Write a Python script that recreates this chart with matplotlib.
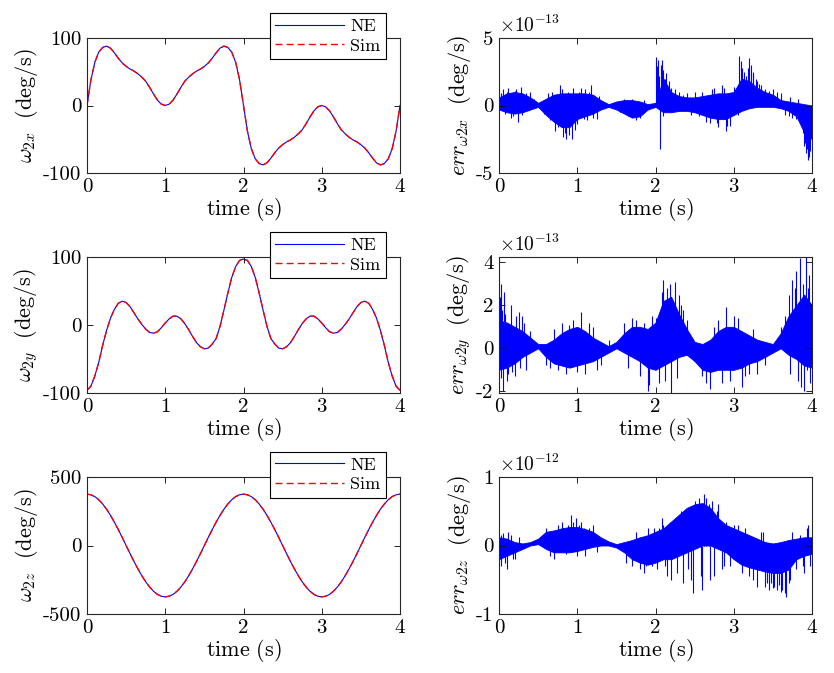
import matplotlib
matplotlib.use("Agg")
import matplotlib.pyplot as plt
import numpy as np

plt.rcParams['font.family'] = ['cmr10', 'DejaVu Serif']
plt.rcParams['mathtext.fontset'] = 'cm'
plt.rcParams['axes.unicode_minus'] = False
plt.rcParams['axes.formatter.use_mathtext'] = True

# ---------------- data ----------------
t = [round(0.05 * i, 2) for i in range(81)]

w2x = [0, 38, 64, 79, 86, 88, 85, 78, 70, 63, 58, 54, 51, 47, 42, 36, 27, 17, 8, 2,
       0, 2, 8, 17, 27, 36, 42, 47, 51, 54, 58, 63, 70, 78, 85, 88, 86, 79, 64, 38,
       0, -38, -64, -79, -86, -88, -85, -78, -70, -63, -58, -54, -51, -47, -42, -36, -27, -17, -8, -2,
       0, -2, -8, -17, -27, -36, -42, -47, -51, -54, -58, -63, -70, -78, -85, -88, -86, -79, -64, -38, 0]

w2y = [-96, -90, -75, -55, -30, -8, 10, 23, 32, 35, 33, 27, 18, 9, 1, -6, -11, -12, -10, -4,
       3, 9, 13, 13, 9, 2, -7, -17, -26, -32, -35, -34, -28, -20, -2, 22, 47, 70, 86, 95,
       97, 95, 86, 70, 47, 22, -2, -20, -28, -34, -35, -32, -26, -17, -7, 2, 9, 13, 13, 9,
       3, -4, -10, -12, -11, -6, 1, 9, 18, 27, 33, 35, 32, 23, 10, -8, -30, -55, -75, -90, -96]

w2z = [375, 370, 357, 334, 303, 265, 220, 170, 116, 59,
       0, -59, -116, -170, -220, -265, -303, -334, -357, -370,
       -375, -370, -357, -334, -303, -265, -220, -170, -116, -59,
       0, 59, 116, 170, 220, 265, 303, 334, 357, 370,
       375, 370, 357, 334, 303, 265, 220, 170, 116, 59,
       0, -59, -116, -170, -220, -265, -303, -334, -357, -370,
       -375, -370, -357, -334, -303, -265, -220, -170, -116, -59,
       0, 59, 116, 170, 220, 265, 303, 334, 357, 370, 375]

# error panels: dense band envelope (every 0.1 s) + individual spikes
t_env = [round(0.1 * i, 1) for i in range(41)]

ex_hi = [0.6, 0.9, 1.0, 0.9, 0.6, 0.2, 0.5, 0.8, 0.9, 0.9, 0.9, 0.9, 0.8, 0.4, 0.1, 0.3, 0.4, 0.4, 0.3, 0.1,
         0.2, 2.0, 1.0, 0.7, 0.6, 0.6, 0.7, 0.8, 0.9, 0.9, 1.0, 2.0, 1.8, 1.3, 1.0, 0.8, 0.4, 0.3, 0.2, 0.1, 0.0]
ex_lo = [-0.3, -0.5, -0.6, -0.5, -0.3, -0.1, -0.7, -1.2, -1.6, -1.6, -1.0, -0.8, -0.6, -0.3, -0.1, -0.3, -0.6, -0.9, -0.8, -0.3,
         -0.1, -0.5, -0.5, -0.4, -0.4, -0.5, -0.7, -0.9, -1.0, -1.0, -0.7, -0.4, -0.2, -0.1, -0.1, -0.1, -0.2, -0.4, -0.8, -2.0, -2.5]
ex_spk_t = [0.05, 0.12, 0.2, 0.28, 0.15, 0.3, 0.4, 0.62, 0.65, 0.72, 0.78, 0.82, 0.86, 0.9, 0.93, 0.95, 1.0, 1.05,
            1.1, 1.18, 1.12, 1.25, 1.65, 1.75, 1.6, 2.01, 2.03, 2.06, 2.08, 2.1, 2.12, 2.15, 2.2, 2.3, 2.4, 2.55,
            2.6, 2.7, 2.75, 2.8, 2.85, 2.9, 2.95, 3.0, 3.07, 3.1, 3.13, 3.2, 3.22, 3.25, 3.3, 3.35, 3.4, 3.5, 3.6,
            3.65, 3.75, 3.8, 3.85, 3.9, 3.92, 3.95, 3.97, 3.99,
            0.02, 0.08, 0.1, 0.18, 0.22, 0.24, 0.35, 0.45, 0.58, 0.68, 0.75, 0.8, 0.84, 0.88, 0.97, 1.02, 1.08,
            1.15, 1.2, 1.28, 1.55, 1.7, 1.8, 1.85, 2.02, 2.04, 2.07, 2.09, 2.13, 2.17, 2.25, 2.35, 2.45, 2.5,
            2.65, 2.72, 2.78, 2.88, 2.92, 3.05, 3.09, 3.12, 3.16, 3.18, 3.24, 3.28, 3.32, 3.45, 3.55, 3.7, 3.72,
            3.82, 3.88, 3.91, 3.94, 3.96, 3.98]
ex_spk_v = [1.2, 1.3, 1.1, 1.4, -0.9, -0.7, 1.0, 0.9, -1.1, -1.9, 1.5, -2.3, -2.5, -2.2, -2.5, 1.3, -1.4, 1.3,
            1.2, 1.5, -1.1, -1.0, -0.8, -1.1, 0.5, 3.6, 3.4, -3.2, 3.4, 2.6, 2.0, 1.5, 1.3, 1.0, 0.9, -0.8,
            1.0, -1.3, 1.3, -1.6, 1.5, -1.9, -1.5, 1.4, 3.7, 2.8, 2.5, 3.5, 3.0, 2.3, 1.8, 1.5, 1.2, 1.2, 0.9,
            -0.7, -0.9, -1.0, -1.2, -3.0, -3.5, -4.0, -3.4, -2.0,
            0.9, -0.6, 1.0, -0.8, 1.2, -1.2, 0.9, 0.5, -0.6, 1.0, -1.6, 1.2, -2.0, 1.0, -1.8, 1.0, -1.0,
            1.0, -0.9, 0.7, -0.5, 0.5, -0.9, 0.4, 2.9, 2.2, 3.0, -0.8, 2.4, 1.8, 1.2, 0.8, -0.7, 1.0,
            -1.2, 1.2, -1.3, 1.3, -1.5, -0.7, 3.3, 2.0, 2.2, 2.8, 2.5, 2.0, 1.6, 1.1, 1.0, -0.8, 0.6,
            0.5, -2.0, -2.8, -3.2, -3.8, -2.6]

ey_hi = [1.3, 1.2, 1.0, 0.8, 0.5, 0.2, 0.2, 0.4, 0.7, 0.9, 1.0, 0.8, 0.5, 0.3, 0.1, 0.3, 0.7, 1.0, 1.0, 0.9,
         1.2, 2.2, 2.4, 1.6, 0.9, 0.3, 0.2, 0.4, 0.8, 1.0, 1.0, 0.8, 0.6, 0.4, 0.3, 0.2, 0.7, 1.5, 2.0, 2.5, 2.0]
ey_lo = [-1.0, -0.9, -0.7, -0.4, -0.2, 0.0, -0.4, -0.7, -0.8, -0.9, -0.8, -0.7, -0.6, -0.4, -0.2, 0.0, -0.2, -0.4, -0.6, -0.9,
         -1.0, -0.8, -0.6, -0.4, -0.3, -0.6, -1.0, -1.1, -1.0, -1.0, -1.0, -0.9, -0.7, -0.6, -0.4, -0.2, 0.0, -0.3, -0.5, -0.8, -0.9]
ey_spk_t = [0.01, 0.03, 0.05, 0.07, 0.1, 0.15, 0.2, 0.25, 0.3, 0.35, 0.65, 0.8, 0.85, 0.95, 1.05, 1.1, 1.2, 1.25,
            1.6, 1.7, 1.8, 1.9, 1.95, 2.05, 2.1, 2.15, 2.2, 2.25, 2.3, 2.35, 2.65, 2.7, 2.8, 2.9, 2.95, 3.05,
            3.1, 3.15, 3.3, 3.6, 3.7, 3.75, 3.8, 3.82, 3.85, 3.88, 3.9, 3.92, 3.93, 3.95, 3.98,
            0.02, 0.04, 0.08, 0.12, 0.17, 0.22, 0.27, 0.32, 0.4, 0.6, 0.7, 0.75, 0.9, 1.0, 1.15, 1.3, 1.4,
            1.65, 1.75, 1.85, 1.92, 2.0, 2.08, 2.12, 2.18, 2.22, 2.28, 2.32, 2.4, 2.6, 2.75, 2.85, 3.0, 3.2,
            3.25, 3.4, 3.65, 3.72, 3.78, 3.86, 3.96]
ey_spk_v = [2.4, 3.0, -2.0, 2.6, -1.5, 2.0, -1.3, 1.7, 1.5, -1.0, -0.9, 1.2, -1.2, 1.3, 1.7, -1.2, 1.0, -1.0,
            1.2, 1.4, -1.3, -2.0, 1.5, -1.6, 3.2, 2.8, -2.2, 3.1, 2.5, 1.8, -1.6, -1.9, 1.3, 1.9, -1.5, 1.4,
            -1.8, -1.3, -1.2, 1.0, 2.5, 3.2, 3.6, -1.5, 4.2, 3.0, -2.0, 4.3, -1.0, 2.8, -1.6,
            -1.4, 1.8, 1.6, -1.2, -1.1, 1.5, -0.9, 1.2, 0.8, -0.8, 0.9, -1.0, 1.1, -1.1, 1.2, -0.8, 0.4,
            -0.9, 1.3, 1.2, -1.7, 1.4, 2.6, -1.5, 3.0, 2.2, -1.4, 2.0, 1.3, -1.3, 1.0, -1.6, 1.5, -1.2,
            0.9, -0.8, 1.5, -1.2, 2.8, -1.8, 3.4]

ez_hi = [0.12, 0.10, 0.05, 0.03, 0.05, 0.10, 0.20, 0.22, 0.25, 0.27, 0.27, 0.24, 0.20, 0.12, 0.06, 0.02, 0.05, 0.08, 0.12, 0.15,
         0.20, 0.25, 0.35, 0.45, 0.55, 0.60, 0.62, 0.55, 0.40, 0.30, 0.25, 0.20, 0.15, 0.10, 0.05, 0.03, 0.05, 0.08, 0.10, 0.12, 0.12]
ez_lo = [-0.20, -0.15, -0.10, -0.05, 0.00, 0.02, -0.05, -0.10, -0.10, -0.10, -0.08, -0.05, -0.02, 0.00, 0.00, -0.03, -0.10, -0.20, -0.25, -0.28,
         -0.25, -0.20, -0.20, -0.15, -0.10, -0.05, 0.00, 0.00, -0.05, -0.10, -0.20, -0.28, -0.32, -0.35, -0.38, -0.40, -0.40, -0.35, -0.20, -0.15, -0.12]
ez_spk_t = [0.02, 0.05, 0.1, 0.15, 0.2, 0.6, 0.7, 0.8, 0.88, 0.92, 0.98, 1.0, 1.05, 1.1, 1.2, 1.15,
            1.7, 1.8, 1.85, 1.9, 1.95, 2.05, 2.1, 2.15, 2.2, 2.25, 2.3, 2.35, 2.4, 2.45, 2.48, 2.5, 2.55, 2.6,
            2.62, 2.65, 2.7, 2.72, 2.75, 2.8, 2.85, 2.9, 2.95, 3.0, 3.1, 3.15, 3.2, 3.3, 3.35, 3.4, 3.45, 3.5,
            3.55, 3.6, 3.65, 3.67, 3.7, 3.75, 3.8, 3.85, 3.9, 3.95, 3.98,
            0.03, 0.08, 0.12, 0.18, 0.25, 0.65, 0.75, 0.85, 0.95, 1.02, 1.08, 1.25, 1.62, 1.75, 1.88, 1.98,
            2.02, 2.08, 2.12, 2.18, 2.28, 2.32, 2.42, 2.52, 2.58, 2.68, 2.78, 2.88, 3.05, 3.25, 3.38, 3.42,
            3.48, 3.52, 3.58, 3.62, 3.72, 3.88, 3.93]
ez_spk_v = [-0.3, 0.18, -0.35, 0.15, -0.2, 0.25, -0.2, 0.35, 0.3, 0.45, 0.4, -0.15, 0.35, -0.15, 0.3, 0.25,
            -0.3, -0.35, -0.4, 0.25, -0.3, 0.25, 0.3, -0.45, -0.5, 0.35, 0.45, -0.55, 0.5, -0.5, -0.7, 0.65, 0.7, -0.65,
            0.75, 0.7, -0.5, 0.65, -0.45, 0.6, -0.35, 0.35, -0.3, 0.3, -0.4, 0.25, -0.45, -0.6, 0.2, -0.6, -0.65, -0.62,
            -0.65, -0.68, -0.7, -0.75, -0.55, 0.2, -0.35, 0.15, -0.4, 0.3, -0.3,
            0.15, -0.25, 0.2, -0.2, 0.12, -0.15, 0.3, -0.12, 0.35, 0.3, 0.25, -0.1, -0.25, 0.2, -0.3, 0.25,
            -0.35, 0.4, -0.3, 0.35, -0.4, 0.5, -0.35, 0.6, -0.45, 0.6, 0.5, -0.3, 0.3, -0.5, 0.2, -0.55,
            -0.55, -0.6, -0.58, -0.65, -0.5, -0.3, 0.25]

left_labels = [r'$\omega_{2x}\ \ \mathrm{(deg/s)}$', r'$\omega_{2y}\ \ \mathrm{(deg/s)}$', r'$\omega_{2z}\ \ \mathrm{(deg/s)}$']
right_labels = [r'$err_{\omega 2x}\ \ \mathrm{(deg/s)}$', r'$err_{\omega 2y}\ \ \mathrm{(deg/s)}$', r'$err_{\omega 2z}\ \ \mathrm{(deg/s)}$']
left_series = [w2x, w2y, w2z]
left_yticks = [[-100, 0, 100], [-100, 0, 100], [-500, 0, 500]]
left_ylim = [(-100, 100), (-100, 100), (-500, 500)]
right_env = [(ex_hi, ex_lo), (ey_hi, ey_lo), (ez_hi, ez_lo)]
right_spk = [(ex_spk_t, ex_spk_v), (ey_spk_t, ey_spk_v), (ez_spk_t, ez_spk_v)]
right_yticks = [[-5, 0, 5], [-2, 0, 2, 4], [-1, 0, 1]]
right_ylim = [(-5, 5), (-2.08, 4.25), (-1, 1)]
right_exp = [r'$\times\mathrm{10}^{\mathrm{-13}}$', r'$\times\mathrm{10}^{\mathrm{-13}}$', r'$\times\mathrm{10}^{\mathrm{-12}}$']
xticks = [0, 1, 2, 3, 4]

# ---------------- figure ----------------
fig = plt.figure(figsize=(8.34, 6.73), dpi=100)
W, H = 834, 673
rows = [(38, 173), (257, 393), (477, 614)]
cols = [(87, 400), (499, 812)]

def style(ax, yt, ylim):
    ax.set_xlim(0, 4)
    ax.set_ylim(*ylim)
    ax.set_xticks(xticks)
    ax.set_xticklabels([str(v) for v in xticks])
    ax.set_yticks(yt)
    ax.set_yticklabels([str(v) for v in yt])
    ax.tick_params(direction='in', top=True, right=True, length=4, width=0.6, labelsize=15, pad=4)
    for s in ax.spines.values():
        s.set_linewidth(0.8)
        s.set_color('#262626')
    ax.set_xlabel(r'$\mathrm{time\ (s)}$', fontsize=16, labelpad=0)

for r in range(3):
    y0, y1 = rows[r]
    # left
    x0, x1 = cols[0]
    ax = fig.add_axes([x0 / W, 1 - y1 / H, (x1 - x0) / W, (y1 - y0) / H])
    ax.plot(t, left_series[r], color='#0000ff', lw=0.8, label='NE')
    ax.plot(t, left_series[r], color='#ff0000', lw=1.0, dashes=(5, 3), label='Sim')
    style(ax, left_yticks[r], left_ylim[r])
    ax.set_ylabel(left_labels[r], fontsize=16, labelpad=2)
    leg = ax.legend(loc='upper right', bbox_to_anchor=(0.955, 1.185), fontsize=13,
                    handlelength=3.8, handletextpad=0.35, borderpad=0.3, labelspacing=0.22,
                    borderaxespad=0, fancybox=False, framealpha=1, edgecolor='black')
    leg.get_frame().set_linewidth(0.8)
    leg.set_zorder(10)
    # right
    x0, x1 = cols[1]
    ax = fig.add_axes([x0 / W, 1 - y1 / H, (x1 - x0) / W, (y1 - y0) / H])
    hi, lo = right_env[r]
    ax.fill_between(t_env, lo, hi, color='#0000ff', lw=0.6, edgecolor='#0000ff')
    st, sv = right_spk[r]
    ax.vlines(st, 0, sv, color='#0000ff', lw=0.8)
    style(ax, right_yticks[r], right_ylim[r])
    ax.set_ylabel(right_labels[r], fontsize=16, labelpad=2)
    ax.text(0.0, 1.015, right_exp[r], transform=ax.transAxes, ha='left', va='bottom', fontsize=14)

fig.savefig('out.png', dpi=100)
